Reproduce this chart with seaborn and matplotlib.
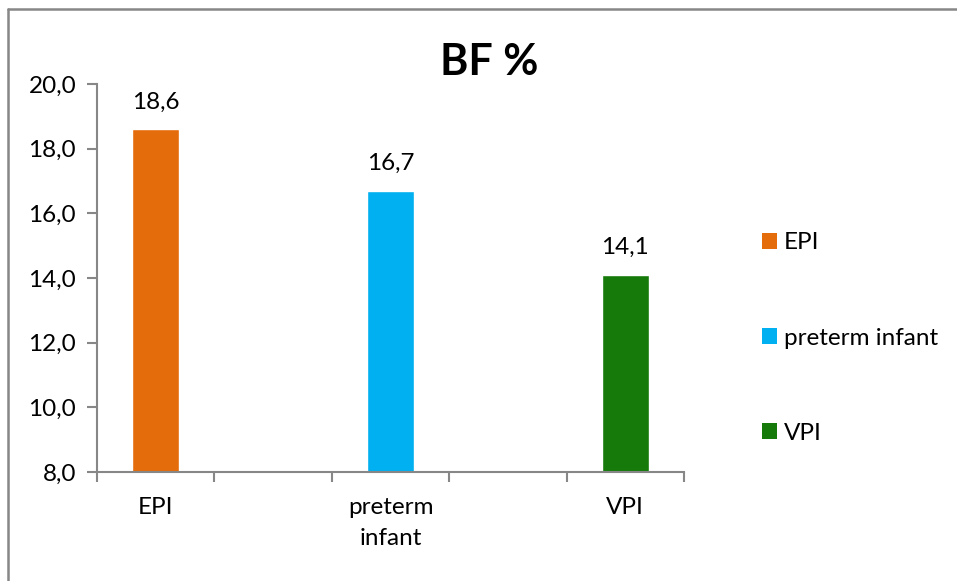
import matplotlib
matplotlib.use("Agg")
import matplotlib.pyplot as plt
from matplotlib.patches import Patch
from matplotlib.lines import Line2D
import seaborn as sns
import pandas as pd

# Body-fat percentage by group
groups = ["EPI", "preterm infant", "VPI"]
values = [18.6, 16.7, 14.1]
slots = [0, 2, 4]  # category slots on a 5-slot axis
axis_labels = ["EPI", "preterm\ninfant", "VPI"]
colors = ["#E46C0A", "#00B0F0", "#157A0A"]
y_ticks = [8, 10, 12, 14, 16, 18, 20]

sns.set_theme(style="white")
plt.rcParams["font.family"] = ["Lato", "DejaVu Sans"]
plt.rcParams["text.color"] = "black"
plt.rcParams["xtick.color"] = "black"
plt.rcParams["ytick.color"] = "black"

fs = 17.5

fig = plt.figure(figsize=(9.57, 5.81), dpi=100)
ax = fig.add_axes([97 / 957, 1 - 472 / 581, (684 - 97) / 957, (472 - 84) / 581])

df = pd.DataFrame({"slot": slots, "value": values, "group": groups})
sns.barplot(data=df, x="slot", y="value", hue="group", palette=colors,
            native_scale=True, dodge=False, width=0.2, legend=False,
            saturation=1, ax=ax)

ax.set_xlim(-0.5, 4.5)
ax.set_ylim(8, 20)
ax.set_yticks(y_ticks)
ax.set_yticklabels([f"{v:.1f}".replace(".", ",") for v in y_ticks], fontsize=fs)

# category boundary ticks, labels centred under the bars
ax.set_xticks([-0.5, 0.5, 1.5, 2.5, 3.5, 4.5])
ax.set_xticklabels([])
ax.set_xticks(slots, minor=True)
ax.set_xticklabels(axis_labels, minor=True, fontsize=fs, linespacing=1.6, va="top")
ax.tick_params(axis="x", which="minor", length=0, pad=18)
ax.tick_params(axis="both", which="major", length=7, width=1.5, color="#878787",
               direction="out", bottom=True, left=True)
ax.tick_params(axis="y", pad=8)
ax.set_xlabel("")
ax.set_ylabel("")

for side in ["top", "right"]:
    ax.spines[side].set_visible(False)
for side in ["left", "bottom"]:
    ax.spines[side].set_color("#878787")
    ax.spines[side].set_linewidth(1.5)

for s, v in zip(slots, values):
    ax.annotate(f"{v:.1f}".replace(".", ","), (s, v), xytext=(0, 12),
                textcoords="offset points", ha="center", va="bottom", fontsize=fs)

fig.text(489 / 957, 1 - 62 / 581, "BF %", ha="center", va="center",
         fontsize=31, fontweight="bold")

handles = [Patch(facecolor=c, edgecolor="none") for c in colors]
fig.legend(handles, groups, loc="center left",
           bbox_to_anchor=(750 / 957, 1 - 338 / 581), frameon=False,
           fontsize=fs, handlelength=0.6, handleheight=0.6,
           handletextpad=0.3, labelspacing=3.05, borderpad=0)

# outer chart frame
fx, fy = 8 / 957, 1 - 9 / 581
fig.add_artist(Line2D([fx, fx], [0, fy], transform=fig.transFigure,
                      color="#878787", linewidth=1.8))
fig.add_artist(Line2D([fx, 1], [fy, fy], transform=fig.transFigure,
                      color="#878787", linewidth=1.8))

fig.savefig("out.png", dpi=100)
